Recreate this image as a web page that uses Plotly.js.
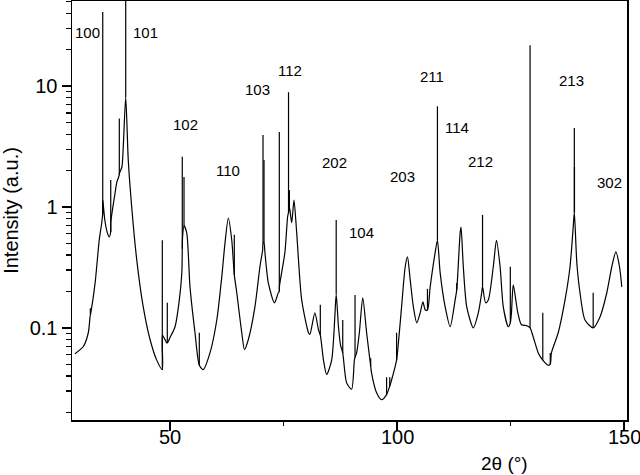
<!DOCTYPE html>
<html>
<head>
<meta charset="utf-8">
<script src="https://cdn.plot.ly/plotly-3.0.1.min.js"></script>
<style>html,body{margin:0;padding:0;background:#fff;}#chart{width:640px;height:475px;}</style>
</head>
<body>
<div id="chart"></div>
<script>
// Broad background pattern: 2θ (degrees) and intensity (a.u.)
const twoTheta = [
29.07,30.9,32.0,32.4,32.5,33.5,34.4,34.96,35.15,35.2,35.3,35.7,36.2,36.6,36.93,36.96,37.9,38.3,38.83,38.86,
39.4,39.7,40.24,40.8,41.56,42.67,44.1,45.6,47.07,48.3,48.33,49.27,49.4,50.0,51.1,52.05,52.6,52.7,52.75,53.08,
53.68,54.4,55.5,56.45,57.3,58.8,60.3,61.4,62.1,62.84,63.6,64.16,64.7,65.8,66.4,67.25,68.7,69.8,70.4,70.48,
70.7,70.9,71.65,73.0,73.85,74.07,74.1,75.3,75.9,76.1,76.3,76.8,77.3,77.9,79.0,80.5,80.8,81.9,82.7,83.1,
83.8,84.5,85.6,86.3,86.6,87.1,87.55,88.04,88.9,90.0,90.6,90.75,91.1,91.7,92.45,93.3,94.2,94.4,95.5,96.6,
97.7,98.4,98.8,99.9,100.3,101.0,101.8,102.3,102.9,103.6,104.35,105.1,105.7,106.2,106.7,107.3,108.4,108.9,109.5,110.6,
111.7,112.8,113.15,113.9,114.1,114.6,115.35,116.8,117.9,118.65,118.83,119.5,120.1,121.2,121.9,122.7,123.4,124.5,124.95,125.2,
125.6,126.6,127.4,128.6,129.3,130.0,131.1,132.1,133.3,133.75,134.0,135.5,137.0,138.1,138.8,139.05,139.6,140.3,141.4,143.2,
144.7,146.2,147.3,148.2,149.0,149.5
];
const intensity = [
0.061,0.070,0.091,0.125,0.13,0.235,0.53,0.74,0.86,1.14,1.04,0.75,0.61,0.565,0.62,0.75,1.31,1.61,1.84,1.9,
2.14,3.13,8.1,2.45,1.0,0.365,0.149,0.080,0.054,0.045,0.087,0.075,0.075,0.083,0.102,0.17,0.285,0.45,0.55,0.7,
0.61,0.218,0.091,0.049,0.045,0.062,0.116,0.264,0.50,0.81,0.53,0.274,0.195,0.091,0.066,0.080,0.149,0.32,0.44,0.5,
0.5,0.42,0.235,0.161,0.195,0.2,0.22,0.42,0.83,0.9,1.0,0.74,1.14,0.61,0.17,0.091,0.088,0.133,0.096,0.087,
0.054,0.041,0.054,0.123,0.19,0.102,0.072,0.062,0.035,0.031,0.054,0.057,0.062,0.091,0.177,0.091,0.048,0.042,0.029,0.0254,
0.028,0.033,0.037,0.054,0.075,0.149,0.32,0.386,0.249,0.149,0.11,0.133,0.164,0.141,0.14,0.218,0.42,0.53,0.285,0.149,
0.102,0.17,0.206,0.61,0.68,0.32,0.149,0.10,0.133,0.195,0.22,0.161,0.17,0.32,0.53,0.32,0.149,0.102,0.11,0.133,
0.227,0.133,0.106,0.104,0.1,0.084,0.062,0.054,0.049,0.05,0.062,0.091,0.17,0.32,0.68,0.9,0.344,0.195,0.116,0.10,
0.123,0.195,0.32,0.425,0.32,0.218
];
// Sharp reflections (vertical spikes): position, foot and top intensity
const spikeX    = [32.45,35.18,36.94,38.83,40.24,48.3,49.4,52.7,53.08,56.45,64.16,70.48,70.7,74.07,76.1,76.3,83.1,86.6,88.04,90.75,94.2,97.7,98.4,99.9,106.7,108.9,113.15,118.83,124.95,129.3,132.1,133.75,139.05,139.08,143.2];
const spikeBase = [0.13,0.86,0.62,1.84,8.1,0.045,0.075,0.45,0.7,0.049,0.274,0.5,0.5,0.2,0.9,1.0,0.087,0.19,0.062,0.057,0.048,0.028,0.033,0.054,0.14,0.53,0.206,0.22,0.11,0.1,0.054,0.05,0.9,0.9,0.10];
const spikeTop  = [0.145,41,1.67,5.4,80,0.53,0.161,2.6,1.77,0.091,0.59,3.94,2.45,4.17,8.9,1.38,0.155,0.78,0.116,0.187,0.056,0.039,0.039,0.091,0.21,6.8,0.235,0.86,0.32,21.8,0.133,0.062,4.5,2.14,0.195];
// Peak (hkl) labels and their positions
const peakLabels = ["100","101","102","110","103","112","202","104","203","211","114","212","213","302"];
const labelX = [31.9,44.7,53.3,62.8,69.2,76.4,86.3,92.1,101.3,107.7,113.2,118.3,138.5,146.7];
const labelY = [27.9,27.9,4.85,2.02,9.4,13.5,2.31,0.61,1.77,12.1,4.5,2.36,11.2,1.58];
// Axis ticks
const yTickVals = [0.1, 1, 10];
const yTickText = ["0.1", "1", "10"];
const xTickVals = [50, 100, 150];
const xMinorVals = [75, 125];

const FONT = "Liberation Sans, Arial, Helvetica, sans-serif";
const X_RANGE = [28.41, 150.65];
const Y_RANGE = [-1.763, 1.704];

const yMinor = [];
[0.01, 0.1, 1, 10].forEach(d => { for (let k = 2; k <= 9; k++) yMinor.push(+(d * k).toPrecision(3)); });

const sx = [], sy = [];
spikeX.forEach((x, i) => { sx.push(x, x, null); sy.push(spikeBase[i], spikeTop[i], null); });

const annotations = peakLabels.map((t, i) => ({
  x: labelX[i], y: Math.log10(labelY[i]), xref: "x", yref: "y",
  text: t, showarrow: false, xanchor: "center", yanchor: "middle",
  font: {family: FONT, size: 15, color: "#000"}
}));
xTickVals.forEach(v => annotations.push({
  x: v, y: -0.041, xref: "x", yref: "paper", text: String(v),
  showarrow: false, xanchor: "center", yanchor: "middle",
  font: {family: FONT, size: 20, color: "#000"}
}));
annotations.push({
  x: 0.78, y: -0.103, xref: "paper", yref: "paper", text: "2θ (°)",
  showarrow: false, xanchor: "center", yanchor: "middle",
  font: {family: FONT, size: 19, color: "#000"}
});

const base = {
  x: twoTheta, y: intensity, type: "scatter", mode: "lines",
  line: {color: "#000", width: 1.2, shape: "spline", smoothing: 0.7, simplify: false},
  hoverinfo: "skip"
};
const spikes = {
  x: sx, y: sy, type: "scatter", mode: "lines", connectgaps: false,
  line: {color: "#000", width: 1.2, simplify: false},
  hoverinfo: "skip"
};
// invisible carrier so the minor-tick overlay axes are drawn
const minorHolder = {
  x: [twoTheta[0]], y: [intensity[0]], type: "scatter", mode: "markers",
  marker: {opacity: 0, size: 1}, xaxis: "x2", yaxis: "y2", hoverinfo: "skip"
};

const layout = {
  width: 640, height: 475,
  margin: {l: 72, r: 13, t: 1, b: 55},
  paper_bgcolor: "#fff", plot_bgcolor: "#fff",
  showlegend: false,
  font: {family: FONT, color: "#000"},
  xaxis: {
    range: X_RANGE,
    tickmode: "array", tickvals: xTickVals, showticklabels: false,
    ticks: "outside", ticklen: 9, tickwidth: 1.5, tickcolor: "#000",
    showline: true, linecolor: "#000", linewidth: 1.5, mirror: true,
    showgrid: false, zeroline: false
  },
  xaxis2: {
    overlaying: "x", side: "bottom", anchor: "y",
    range: X_RANGE,
    tickmode: "array", tickvals: xMinorVals, showticklabels: false,
    ticks: "outside", ticklen: 5, tickwidth: 1.5, tickcolor: "#000",
    showline: false, showgrid: false, zeroline: false
  },
  yaxis: {
    type: "log",
    range: Y_RANGE,
    tickmode: "array", tickvals: yTickVals, ticktext: yTickText,
    ticks: "outside", ticklen: 9, tickwidth: 1.5, tickcolor: "#000",
    showline: true, linecolor: "#000", linewidth: 1.5, mirror: true,
    showgrid: false, zeroline: false,
    tickfont: {family: FONT, size: 20, color: "#000"},
    title: {text: "Intensity (a.u.)", font: {family: FONT, size: 20, color: "#000"}, standoff: 10}
  },
  yaxis2: {
    type: "log", overlaying: "y", side: "left", anchor: "x",
    range: Y_RANGE,
    tickmode: "array", tickvals: yMinor, showticklabels: false,
    ticks: "outside", ticklen: 5, tickwidth: 1.3, tickcolor: "#000",
    showline: false, showgrid: false, zeroline: false
  },
  annotations: annotations
};

Plotly.newPlot("chart", [base, spikes, minorHolder], layout, {staticPlot: true, displayModeBar: false});
</script>
</body>
</html>
